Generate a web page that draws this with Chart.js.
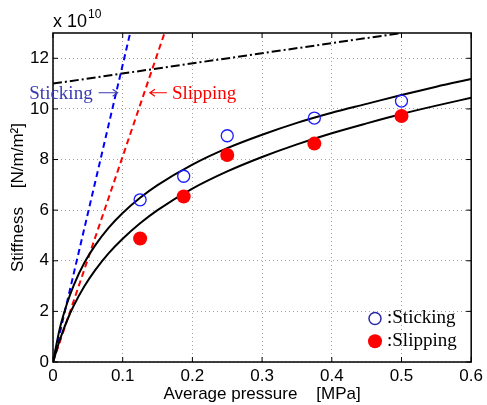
<!DOCTYPE html>
<html>
<head>
<meta charset="utf-8">
<script src="https://cdn.jsdelivr.net/npm/chart.js@4.4.1/dist/chart.umd.min.js"></script>
<style>
  html, body { margin: 0; padding: 0; background: #fff; }
</style>
</head>
<body>
<canvas id="stiffnessChart" width="487" height="405"></canvas>
<script>
// measured points (stiffness in units of 1e10 N/m/m^2)
const pressure = [0.125, 0.1875, 0.25, 0.375, 0.5]
const stickingStiffness = [6.41, 7.34, 8.94, 9.64, 10.31]
const slippingStiffness = [4.88, 6.54, 8.18, 8.63, 9.72]

// fitted curves
const fitPressure = [0, 0.01, 0.02, 0.03, 0.045, 0.06, 0.08, 0.1, 0.125, 0.15, 0.2, 0.25, 0.3, 0.35, 0.4, 0.45, 0.5, 0.55, 0.6]
const stickingFit = [0, 1.35, 2.3, 3.05, 3.92, 4.59, 5.31, 5.89, 6.49, 6.99, 7.8, 8.45, 8.98, 9.45, 9.85, 10.2, 10.55, 10.88, 11.18]
const slippingFit = [0, 0.89, 1.63, 2.24, 2.99, 3.61, 4.3, 4.87, 5.48, 6.0, 6.85, 7.53, 8.1, 8.6, 9.04, 9.43, 9.8, 10.13, 10.44]

// straight reference lines
const stickLineX = [0, 0.1107]
const stickLineY = [0, 13]
const slipLineX = [0, 0.16]
const slipLineY = [0, 13]
const limitLineX = [0, 0.5]
const limitLineY = [11, 13]

const xTicks = [0, 0.1, 0.2, 0.3, 0.4, 0.5, 0.6]
const yTicks = [0, 2, 4, 6, 8, 10, 12]

const sans = '"Liberation Sans", Arial, Helvetica, sans-serif'
const serif = '"Liberation Serif", "Times New Roman", serif'

const xy = (xs, ys) => xs.map((x, i) => ({ x, y: ys[i] }))

const curve = (xs, ys, extra) => Object.assign({
    data: xy(xs, ys),
    showLine: true,
    borderColor: '#000',
    borderWidth: 2,
    pointRadius: 0,
    fill: false,
    order: 2
}, extra)

const arrow = (ctx, x1, x2, yy, color) => {
    const dir = Math.sign(x2 - x1)
    ctx.save()
    ctx.strokeStyle = color
    ctx.lineWidth = 1.2
    ctx.beginPath()
    ctx.moveTo(x1, yy); ctx.lineTo(x2, yy)
    ctx.moveTo(x2 - dir * 5, yy - 3.5); ctx.lineTo(x2, yy); ctx.lineTo(x2 - dir * 5, yy + 3.5)
    ctx.stroke()
    ctx.restore()
}

const decorations = {
    id: 'decorations',
    afterDraw(chart) {
        const { ctx, chartArea: a, scales: { x, y } } = chart
        ctx.save()

        // inward ticks on all four sides
        ctx.strokeStyle = '#000'
        ctx.lineWidth = 1
        ctx.beginPath()
        xTicks.forEach(v => {
            const px = x.getPixelForValue(v)
            ctx.moveTo(px, a.bottom); ctx.lineTo(px, a.bottom - 5)
            ctx.moveTo(px, a.top); ctx.lineTo(px, a.top + 5)
        })
        yTicks.forEach(v => {
            const py = y.getPixelForValue(v)
            ctx.moveTo(a.left, py); ctx.lineTo(a.left + 5, py)
            ctx.moveTo(a.right, py); ctx.lineTo(a.right - 5, py)
        })
        ctx.stroke()

        ctx.lineWidth = 1.5
        ctx.strokeRect(a.left, a.top, a.right - a.left, a.bottom - a.top)

        // exponent label
        ctx.fillStyle = '#000'
        ctx.textBaseline = 'alphabetic'
        ctx.textAlign = 'left'
        ctx.font = '18px ' + sans
        ctx.fillText('x 10', a.left, a.top - 6)
        const w = ctx.measureText('x 10').width
        ctx.font = '12px ' + sans
        ctx.fillText('10', a.left + w + 1, a.top - 15)

        // line annotations
        ctx.textBaseline = 'middle'
        ctx.font = '19px ' + serif
        const ay = y.getPixelForValue(10.6)
        const sx = x.getPixelForValue(-0.034)
        ctx.fillStyle = '#3b3bb3'
        ctx.fillText('Sticking', sx, ay)
        const sw = ctx.measureText('Sticking').width
        arrow(ctx, sx + sw + 6, sx + sw + 25, ay - 1, '#3b3bb3')

        const rx = x.getPixelForValue(0.139)
        arrow(ctx, rx + 17, rx, ay - 1, '#ff0000')
        ctx.fillStyle = '#ff0000'
        ctx.fillText('Slipping', rx + 22, ay)

        // legend
        const lx = x.getPixelForValue(0.462)
        const ly1 = y.getPixelForValue(1.72)
        const ly2 = y.getPixelForValue(0.82)
        ctx.beginPath()
        ctx.arc(lx, ly1, 6, 0, Math.PI * 2)
        ctx.strokeStyle = '#2b2ba6'
        ctx.lineWidth = 1.5
        ctx.stroke()
        ctx.beginPath()
        ctx.arc(lx, ly2, 7, 0, Math.PI * 2)
        ctx.fillStyle = '#ff0000'
        ctx.fill()
        ctx.fillStyle = '#000'
        ctx.fillText(':Sticking', lx + 12, ly1)
        ctx.fillText(':Slipping', lx + 12, ly2)

        ctx.restore()
    }
}

const data = {
    datasets: [
        {
            label: 'Sticking',
            data: xy(pressure, stickingStiffness),
            pointRadius: 6,
            pointBorderWidth: 1.3,
            pointBorderColor: '#1a1aff',
            pointBackgroundColor: 'rgba(0,0,0,0)',
            order: 0
        },
        {
            label: 'Slipping',
            data: xy(pressure, slippingStiffness),
            pointRadius: 7,
            pointBorderWidth: 0,
            pointBorderColor: '#ff0000',
            pointBackgroundColor: '#ff0000',
            order: 0
        },
        curve(fitPressure, stickingFit, { label: 'Sticking fit', cubicInterpolationMode: 'monotone' }),
        curve(fitPressure, slippingFit, { label: 'Slipping fit', cubicInterpolationMode: 'monotone' }),
        curve(stickLineX, stickLineY, { label: 'Sticking slope', borderColor: '#0000ff', borderDash: [6, 4] }),
        curve(slipLineX, slipLineY, { label: 'Slipping slope', borderColor: '#ff0000', borderDash: [6, 4] }),
        curve(limitLineX, limitLineY, { label: 'Limit', borderDash: [9, 3, 2, 3] })
    ]
}

const options = {
    responsive: false,
    animation: false,
    layout: { padding: { top: 33, right: 13, left: 0, bottom: 0 } },
    plugins: {
        legend: { display: false },
        tooltip: { enabled: false }
    },
    scales: {
        x: {
            type: 'linear',
            min: 0,
            max: 0.6,
            afterFit: scale => { scale.height = 43 },
            afterBuildTicks: scale => { scale.ticks = xTicks.map(value => ({ value })) },
            ticks: {
                color: '#000',
                font: { size: 17, family: sans },
                padding: 4,
                maxRotation: 0,
                callback: v => v === 0 ? '0' : v.toFixed(1)
            },
            grid: { color: '#a0a0a0', lineWidth: 1, drawTicks: false },
            border: { display: false, dash: [1, 3] },
            title: {
                display: true,
                text: 'Average pressure    [MPa]',
                color: '#000',
                font: { size: 17, family: sans },
                padding: { top: 0, bottom: 0 }
            }
        },
        y: {
            type: 'linear',
            min: 0,
            max: 13,
            afterFit: scale => { scale.width = 53 },
            afterBuildTicks: scale => { scale.ticks = yTicks.map(value => ({ value })) },
            ticks: {
                color: '#000',
                font: { size: 17, family: sans },
                padding: 4
            },
            grid: { color: '#a0a0a0', lineWidth: 1, drawTicks: false },
            border: { display: false, dash: [1, 3] },
            title: {
                display: true,
                text: 'Stiffness    [N/m/m²]',
                color: '#000',
                font: { size: 17, family: sans },
                padding: { top: 8, bottom: 0 }
            }
        }
    }
}

new Chart('stiffnessChart', { type: 'scatter', data, options, plugins: [decorations] })
</script>
</body>
</html>
